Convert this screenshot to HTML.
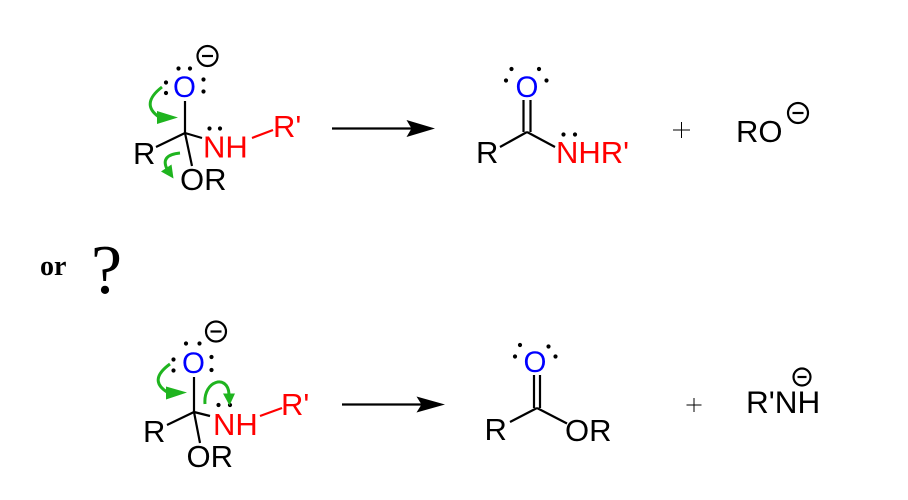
<!DOCTYPE html>
<html><head><meta charset="utf-8"><style>
html,body{margin:0;padding:0;background:#fff;}
svg{display:block;}
text{font-family:"Liberation Sans",Arial,sans-serif;}
</style></head><body>
<svg width="908" height="500" viewBox="0 0 908 500" xmlns="http://www.w3.org/2000/svg">
<rect width="908" height="500" fill="#fff"/>

<!-- ===== TOP LEFT MOLECULE ===== -->
<g stroke="#000" stroke-width="2.2" fill="none">
  <line x1="185" y1="101" x2="185" y2="133"/>
  <line x1="156" y1="147" x2="185" y2="133"/>
  <line x1="185" y1="133" x2="202" y2="138"/>
  <line x1="185" y1="133" x2="192" y2="166"/>
  <circle cx="207.5" cy="56" r="10"/>
  <line x1="202" y1="56" x2="213" y2="56"/>
</g>
<line x1="252" y1="138" x2="273" y2="130" stroke="#f00" stroke-width="2.2"/>
<text x="184.5" y="97" font-size="29.5" fill="#00f" text-anchor="middle">O</text>
<g fill="#000">
  <circle cx="178.5" cy="68.5" r="2.1"/><circle cx="190" cy="68.5" r="2.1"/>
  <circle cx="166" cy="82.5" r="2.1"/><circle cx="166" cy="93" r="2.1"/>
  <circle cx="203.5" cy="79.5" r="2.1"/><circle cx="203.5" cy="91.5" r="2.1"/>
  <circle cx="209.5" cy="128.5" r="2.1"/><circle cx="220" cy="128.5" r="2.1"/>
</g>
<text x="133" y="164" font-size="31" fill="#000">R</text>
<text x="203" y="157.5" font-size="31" fill="#f00">NH</text>
<text x="273" y="137" font-size="31" fill="#f00">R'</text>
<text x="180" y="190" font-size="31" fill="#000">OR</text>
<!-- green arrows -->
<g stroke="#1fb41f" stroke-width="3" fill="none">
  <path d="M162 87 Q 140 104 159 117"/>
  <path d="M180 153 Q 160 155 167 169"/>
</g>
<g fill="#1fb41f">
  <polygon points="178,117.5 157,111 157,124"/>
  <polygon points="173.5,178.5 171.5,164.5 161,171.5"/>
</g>

<!-- arrow 1 -->
<line x1="332" y1="128.5" x2="412" y2="128.5" stroke="#000" stroke-width="2.2"/>
<polygon points="435,128.5 406.5,120 411.5,128.5 406.5,137" fill="#000"/>

<!-- ===== TOP RIGHT PRODUCTS ===== -->
<g stroke="#000" stroke-width="2.2" fill="none">
  <line x1="523.5" y1="100" x2="523.5" y2="132"/>
  <line x1="530.5" y1="100" x2="530.5" y2="132"/>
  <line x1="500" y1="147" x2="527" y2="132"/>
  <line x1="527" y1="132" x2="555" y2="147"/>
  <circle cx="798" cy="113" r="10"/>
  <line x1="792.5" y1="113" x2="803.5" y2="113"/>
</g>
<g stroke="#000" stroke-width="1">
  <line x1="673" y1="130" x2="690" y2="130"/>
  <line x1="681.5" y1="122" x2="681.5" y2="138"/>
</g>
<text x="527" y="97" font-size="29.5" fill="#00f" text-anchor="middle">O</text>
<g fill="#000">
  <circle cx="511.5" cy="69" r="2.1"/><circle cx="506" cy="80.5" r="2.1"/>
  <circle cx="539" cy="69" r="2.1"/><circle cx="546.5" cy="80.5" r="2.1"/>
  <circle cx="563.5" cy="134.5" r="2.1"/><circle cx="575" cy="134.5" r="2.1"/>
</g>
<text x="476" y="163" font-size="31" fill="#000">R</text>
<text x="556" y="163" font-size="31" fill="#f00">NHR'</text>
<text x="736" y="142" font-size="31" fill="#000">RO</text>

<!-- or ? -->
<text x="40" y="275" font-size="28" font-weight="bold" fill="#000" style="font-family:'Liberation Serif','Times New Roman',serif">or</text>
<text x="91" y="293" font-size="70" fill="#000" style="font-family:'Liberation Serif','Times New Roman',serif">?</text>

<!-- ===== BOTTOM LEFT MOLECULE ===== -->
<g stroke="#000" stroke-width="2.2" fill="none">
  <line x1="194" y1="377" x2="194" y2="412"/>
  <line x1="167" y1="425" x2="194" y2="412"/>
  <line x1="194" y1="412" x2="210" y2="416"/>
  <line x1="194" y1="412" x2="200" y2="443"/>
  <circle cx="216" cy="331.5" r="10"/>
  <line x1="210.5" y1="331.5" x2="221.5" y2="331.5"/>
</g>
<line x1="260" y1="416" x2="282" y2="408" stroke="#f00" stroke-width="2.2"/>
<text x="193.5" y="373" font-size="29.5" fill="#00f" text-anchor="middle">O</text>
<g fill="#000">
  <circle cx="186" cy="343.5" r="2.1"/><circle cx="199.5" cy="343.5" r="2.1"/>
  <circle cx="173.5" cy="359.5" r="2.1"/><circle cx="173.5" cy="370.5" r="2.1"/>
  <circle cx="211.5" cy="357" r="2.1"/><circle cx="211.5" cy="370" r="2.1"/>
  <circle cx="218.5" cy="405" r="2.1"/><circle cx="230" cy="405" r="2.1"/>
</g>
<text x="143" y="442" font-size="31" fill="#000">R</text>
<text x="213" y="435" font-size="31" fill="#f00">NH</text>
<text x="281" y="415" font-size="31" fill="#f00">R'</text>
<text x="186.5" y="467" font-size="31" fill="#000">OR</text>
<g stroke="#1fb41f" stroke-width="3" fill="none">
  <path d="M170 364 Q 148 380 167 392"/>
  <path d="M205 404 C 203 380, 228 374, 229 394"/>
</g>
<g fill="#1fb41f">
  <polygon points="187,392.5 166,386.5 166,399.5"/>
  <polygon points="229.5,405.5 223,393.5 235,393.5"/>
</g>

<!-- arrow 2 -->
<line x1="342" y1="404.5" x2="422" y2="404.5" stroke="#000" stroke-width="2.2"/>
<polygon points="445,404.5 416.5,396.5 421.5,404.5 416.5,412.5" fill="#000"/>

<!-- ===== BOTTOM RIGHT PRODUCTS ===== -->
<g stroke="#000" stroke-width="2.2" fill="none">
  <line x1="534" y1="375" x2="534" y2="408"/>
  <line x1="540" y1="375" x2="540" y2="408"/>
  <line x1="510" y1="422" x2="537" y2="408"/>
  <line x1="537" y1="408" x2="567" y2="423.5"/>
  <circle cx="802" cy="377" r="8.5"/>
  <line x1="797.5" y1="377" x2="806.5" y2="377"/>
</g>
<g stroke="#000" stroke-width="1">
  <line x1="686.5" y1="405" x2="701.5" y2="405"/>
  <line x1="694" y1="398" x2="694" y2="412"/>
</g>
<text x="535" y="372" font-size="29.5" fill="#00f" text-anchor="middle">O</text>
<g fill="#000">
  <circle cx="520" cy="345" r="2.1"/><circle cx="515" cy="356.5" r="2.1"/>
  <circle cx="548.5" cy="346.5" r="2.1"/><circle cx="555.5" cy="356.5" r="2.1"/>
</g>
<text x="484.5" y="440" font-size="31" fill="#000">R</text>
<text x="565" y="441" font-size="31" fill="#000">OR</text>
<text x="746" y="413" font-size="31.5" fill="#000">R'NH</text>
</svg>
</body></html>
